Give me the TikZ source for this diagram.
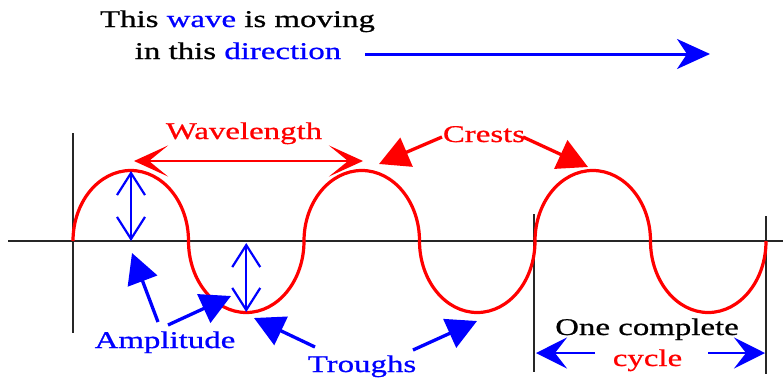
\documentclass[tikz,border=0pt]{standalone}
\usepackage{fontspec}
\setmainfont[FakeStretch=1.37,FakeBold=0.8]{Liberation Serif}
\usetikzlibrary{arrows.meta}
\definecolor{wblue}{RGB}{0,0,255}
\definecolor{wred}{RGB}{255,0,0}
\begin{document}
\begin{tikzpicture}[x=1pt,y=-1pt,
  lab/.style={font=\fontsize{24}{28}\selectfont, inner sep=0pt, anchor=base},
  axisline/.style={line width=2.7pt, black!85},
  wave/.style={line width=3.2pt, wred},
  dirarrow/.style={line width=3pt, wblue, -{Stealth[length=33pt,width=30pt,inset=10pt]}},
  wlarrow/.style={line width=2.6pt, wred, {Stealth[length=34pt,width=31pt,inset=19pt]}-{Stealth[length=34pt,width=31pt,inset=19pt]}},
  amparrow/.style={line width=2.2pt, wblue, {Straight Barb[length=22pt,width=28pt]}-{Straight Barb[length=22pt,width=28pt]}},
  bluepointer/.style={line width=3.3pt, wblue, -{Triangle[length=30pt,width=31pt]}},
  redpointer/.style={line width=3.3pt, wred, -{Triangle[length=30pt,width=31pt]}},
  cyclearrow/.style={line width=2.8pt, wblue, -{Stealth[length=31pt,width=31pt,inset=12pt]}}]
\useasboundingbox (0,0) rectangle (783,381);
\fill[white] (0,0) rectangle (783,381);

% axes
\coordinate (axL) at (8,241);
\coordinate (axR) at (783,241);
\draw[axisline] (axL) -- (axR);
\coordinate (v1t) at (73,133);   \coordinate (v1b) at (73,333);
\coordinate (v2t) at (534,214);  \coordinate (v2b) at (534,372);
\coordinate (v3t) at (766,216);  \coordinate (v3b) at (766,374);
\draw[axisline] (v1t) -- (v1b);
\draw[axisline] (v2t) -- (v2b);
\draw[axisline] (v3t) -- (v3b);

% wave
\coordinate (z0) at (73,241);
\draw[wave] (z0)
  arc[start angle=180,end angle=0,x radius=57.75pt,y radius=70.5pt]
  arc[start angle=180,end angle=360,x radius=57.75pt,y radius=71.5pt]
  arc[start angle=180,end angle=0,x radius=57.75pt,y radius=70.5pt]
  arc[start angle=180,end angle=360,x radius=57.75pt,y radius=71.5pt]
  arc[start angle=180,end angle=0,x radius=57.75pt,y radius=70.5pt]
  arc[start angle=180,end angle=360,x radius=57.75pt,y radius=71.5pt];

% top text
\node[lab] (t1) at (237.5,27) {This {\color{wblue}wave} is moving};
\node[lab] (t2) at (238,59) {in this {\color{wblue}direction}};
\coordinate (dirS) at (365,54);
\coordinate (dirE) at (710,54);
\draw[dirarrow] (dirS) -- (dirE);

% wavelength
\node[lab, text=wred] (wl) at (244,139) {Wavelength};
\coordinate (wlL) at (134,161);
\coordinate (wlR) at (363,161);
\draw[wlarrow] (wlL) -- (wlR);

% crests
\node[lab, text=wred] (cr) at (484,142) {Crests};
\coordinate (cr1s) at (442,137);
\coordinate (cr1e) at (379,164);
\coordinate (cr2s) at (523,137);
\coordinate (cr2e) at (588,167);
\draw[redpointer] (cr1s) -- (cr1e);
\draw[redpointer] (cr2s) -- (cr2e);

% amplitude arrows
\coordinate (a1t) at (131,171);
\coordinate (a1b) at (131,241);
\coordinate (a2t) at (246.25,243);
\coordinate (a2b) at (246.25,312);
\draw[amparrow] (a1t) -- (a1b);
\draw[amparrow] (a2t) -- (a2b);

% amplitude label
\node[lab, text=wblue] (amp) at (165,348) {Amplitude};
\coordinate (am1s) at (158,322);
\coordinate (am1e) at (132,253);
\coordinate (am2s) at (168,325);
\coordinate (am2e) at (231,296);
\draw[bluepointer] (am1s) -- (am1e);
\draw[bluepointer] (am2s) -- (am2e);

% troughs label
\node[lab, text=wblue] (tr) at (362,372) {Troughs};
\coordinate (tr1s) at (315,347);
\coordinate (tr1e) at (254,318);
\coordinate (tr2s) at (413,350);
\coordinate (tr2e) at (477,321);
\draw[bluepointer] (tr1s) -- (tr1e);
\draw[bluepointer] (tr2s) -- (tr2e);

% one complete cycle
\node[lab] (oc) at (647,335) {One complete};
\node[lab, text=wred] (cy) at (647.5,366) {cycle};
\coordinate (cy1s) at (595,353);
\coordinate (cy1e) at (536,353);
\coordinate (cy2s) at (708,353);
\coordinate (cy2e) at (765,353);
\draw[cyclearrow] (cy1s) -- (cy1e);
\draw[cyclearrow] (cy2s) -- (cy2e);
\end{tikzpicture}
\end{document}
